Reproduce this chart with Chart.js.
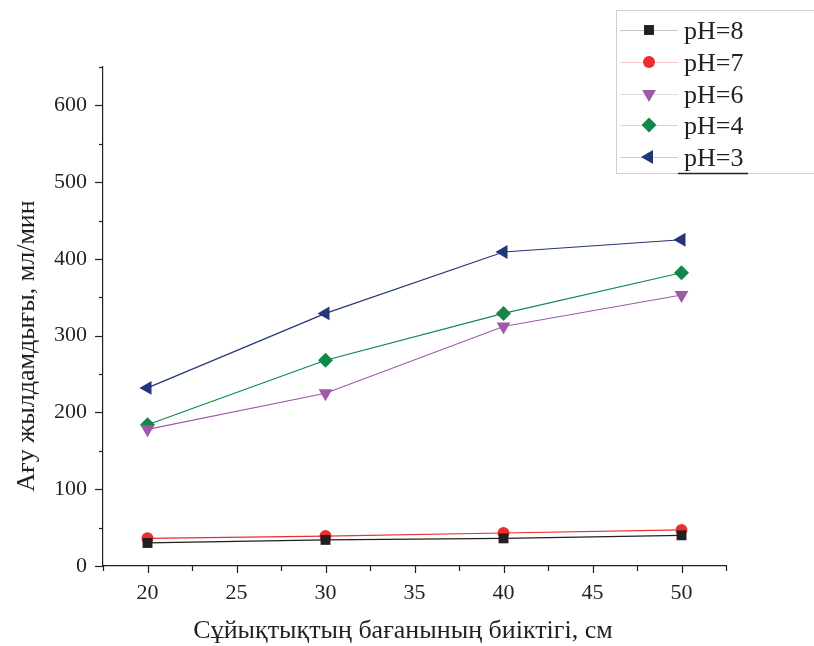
<!DOCTYPE html>
<html>
<head>
<meta charset="utf-8">
<script src="https://cdn.jsdelivr.net/npm/chart.js@4.4.1/dist/chart.umd.min.js"></script>
<style>
  html, body { margin: 0; padding: 0; background: #ffffff; }
  #wrap { width: 814px; height: 646px; position: relative; }
</style>
</head>
<body>
<div id="wrap"><canvas id="c" width="814" height="646"></canvas></div>
<script>
// ---- data ----
const heights = [20, 30, 40, 50];
const seriesNames = ['pH=8', 'pH=7', 'pH=6', 'pH=4', 'pH=3'];
const ph8 = [30, 34, 36, 40];
const ph7 = [36, 39, 43, 47];
const ph6 = [178, 225, 312, 353];
const ph4 = [184, 268, 329, 382];
const ph3 = [232, 329, 409, 425];
const xTitle = 'Сұйықтықтың бағанының биіктігі, см';
const yTitle = 'Ағу жылдамдығы, мл/мин';

const colors = ['#231f20', '#ed2d2e', '#9e5aa8', '#11884a', '#24357a'];
const styles = [
  { pointStyle: 'rect', rotation: 0, radius: 7 },
  { pointStyle: 'circle', rotation: 0, radius: 6 },
  { pointStyle: 'triangle', rotation: 180, radius: 8 },
  { pointStyle: 'rectRot', rotation: 0, radius: 7.5 },
  { pointStyle: 'triangle', rotation: -90, radius: 8 }
];
const values = [ph8, ph7, ph6, ph4, ph3];

const datasets = values.map((vals, i) => ({
  label: seriesNames[i],
  data: heights.map((h, j) => ({ x: h, y: vals[j] })),
  borderColor: colors[i],
  backgroundColor: colors[i],
  borderWidth: 1.2,
  pointStyle: styles[i].pointStyle,
  rotation: styles[i].rotation,
  pointRadius: styles[i].radius,
  pointHoverRadius: styles[i].radius,
  pointBorderWidth: 0,
  showLine: true,
  tension: 0
}));

const FONT = '"Liberation Serif", serif';
const INK = '#231f20';

function drawMarker(ctx, style, radius, rotation, x, y, color) {
  ctx.save();
  ctx.fillStyle = color;
  ctx.translate(x, y);
  ctx.rotate(rotation * Math.PI / 180);
  ctx.beginPath();
  if (style === 'circle') {
    ctx.arc(0, 0, radius, 0, Math.PI * 2);
  } else if (style === 'rect') {
    const s = Math.SQRT1_2 * radius;
    ctx.rect(-s, -s, 2 * s, 2 * s);
  } else if (style === 'rectRot') {
    ctx.moveTo(0, -radius); ctx.lineTo(radius, 0); ctx.lineTo(0, radius); ctx.lineTo(-radius, 0);
    ctx.closePath();
  } else if (style === 'triangle') {
    const a = radius;
    ctx.moveTo(0, -a);
    ctx.lineTo(a * Math.sin(Math.PI * 2 / 3), -a * Math.cos(Math.PI * 2 / 3));
    ctx.lineTo(a * Math.sin(Math.PI * 4 / 3), -a * Math.cos(Math.PI * 4 / 3));
    ctx.closePath();
  }
  ctx.fill();
  ctx.restore();
}

const decorPlugin = {
  id: 'decor',
  afterDraw(chart) {
    const ctx = chart.ctx;
    const xs = chart.scales.x, ys = chart.scales.y;
    ctx.save();
    ctx.strokeStyle = INK;
    ctx.lineWidth = 1.2;
    xs.ticks.forEach(t => {
      const px = Math.round(xs.getPixelForValue(t.value)) + 0.5;
      const major = Math.abs(t.value % 5) < 1e-6;
      ctx.beginPath();
      ctx.moveTo(px, ys.bottom);
      ctx.lineTo(px, ys.bottom + (major ? 7 : 5));
      ctx.stroke();
    });
    ys.ticks.forEach(t => {
      const py = Math.round(ys.getPixelForValue(t.value)) + 0.5;
      const major = Math.abs(t.value % 100) < 1e-6;
      ctx.beginPath();
      ctx.moveTo(xs.left, py);
      ctx.lineTo(xs.left - (major ? 8 : 4), py);
      ctx.stroke();
    });
    ctx.fillStyle = INK;
    ctx.font = '26px ' + FONT;
    ctx.textAlign = 'center';
    ctx.textBaseline = 'middle';
    ctx.fillText(xTitle, 403, 631);
    ctx.save();
    ctx.translate(27, 346);
    ctx.rotate(-Math.PI / 2);
    ctx.fillText(yTitle, 0, 0);
    ctx.restore();

    const lx = 616.5, ly = 10.5, lw = 210, lh = 163;
    ctx.strokeStyle = '#d0d0d0';
    ctx.lineWidth = 1;
    ctx.strokeRect(lx, ly, lw, lh);
    const rowY = [30, 62, 94, 125, 157];
    chart.data.datasets.forEach((ds, i) => {
      const y = rowY[i];
      ctx.globalAlpha = 0.25;
      ctx.strokeStyle = ds.borderColor;
      ctx.lineWidth = 1.2;
      ctx.beginPath();
      ctx.moveTo(620, y + 0.5);
      ctx.lineTo(678, y + 0.5);
      ctx.stroke();
      ctx.globalAlpha = 1;
      drawMarker(ctx, ds.pointStyle, ds.pointRadius, ds.rotation, 649, y, ds.backgroundColor);
      ctx.fillStyle = INK;
      ctx.font = '26px ' + FONT;
      ctx.textAlign = 'left';
      ctx.textBaseline = 'middle';
      ctx.fillText(ds.label, 684, y + 2);
    });
    ctx.strokeStyle = INK;
    ctx.lineWidth = 1.6;
    ctx.beginPath();
    ctx.moveTo(678, 173.5);
    ctx.lineTo(748, 173.5);
    ctx.stroke();
    ctx.restore();
  }
};

function build() {
  new Chart(document.getElementById('c'), {
    type: 'scatter',
    data: { datasets },
    options: {
      responsive: false,
      animation: false,
      events: [],
      layout: { padding: { top: 67, right: 88, left: 0, bottom: 0 } },
      plugins: { legend: { display: false }, tooltip: { enabled: false } },
      scales: {
        x: {
          type: 'linear',
          min: 17.5, max: 52.5,
          grid: { display: false },
          border: { display: true, color: INK, width: 1.2 },
          ticks: {
            stepSize: 2.5,
            autoSkip: false,
            maxRotation: 0,
            padding: 6,
            color: INK,
            font: { family: FONT, size: 22 },
            callback: v => (Math.abs(v % 5) < 1e-6 ? String(v) : '')
          },
          afterFit: s => { s.height = 80; }
        },
        y: {
          type: 'linear',
          min: 0, max: 650,
          grid: { display: false },
          border: { display: true, color: INK, width: 1.2 },
          ticks: {
            stepSize: 50,
            autoSkip: false,
            padding: 8,
            color: INK,
            font: { family: FONT, size: 22 },
            callback: v => (Math.abs(v % 100) < 1e-6 ? String(v) : '')
          },
          afterFit: s => { s.width = 103; }
        }
      }
    },
    plugins: [decorPlugin]
  });
}

Promise.all([
  document.fonts.load('22px "Liberation Serif"', 'Ағу 0123'),
  document.fonts.load('26px "Liberation Serif"', 'pH=')
]).then(build, build);
</script>
</body>
</html>
